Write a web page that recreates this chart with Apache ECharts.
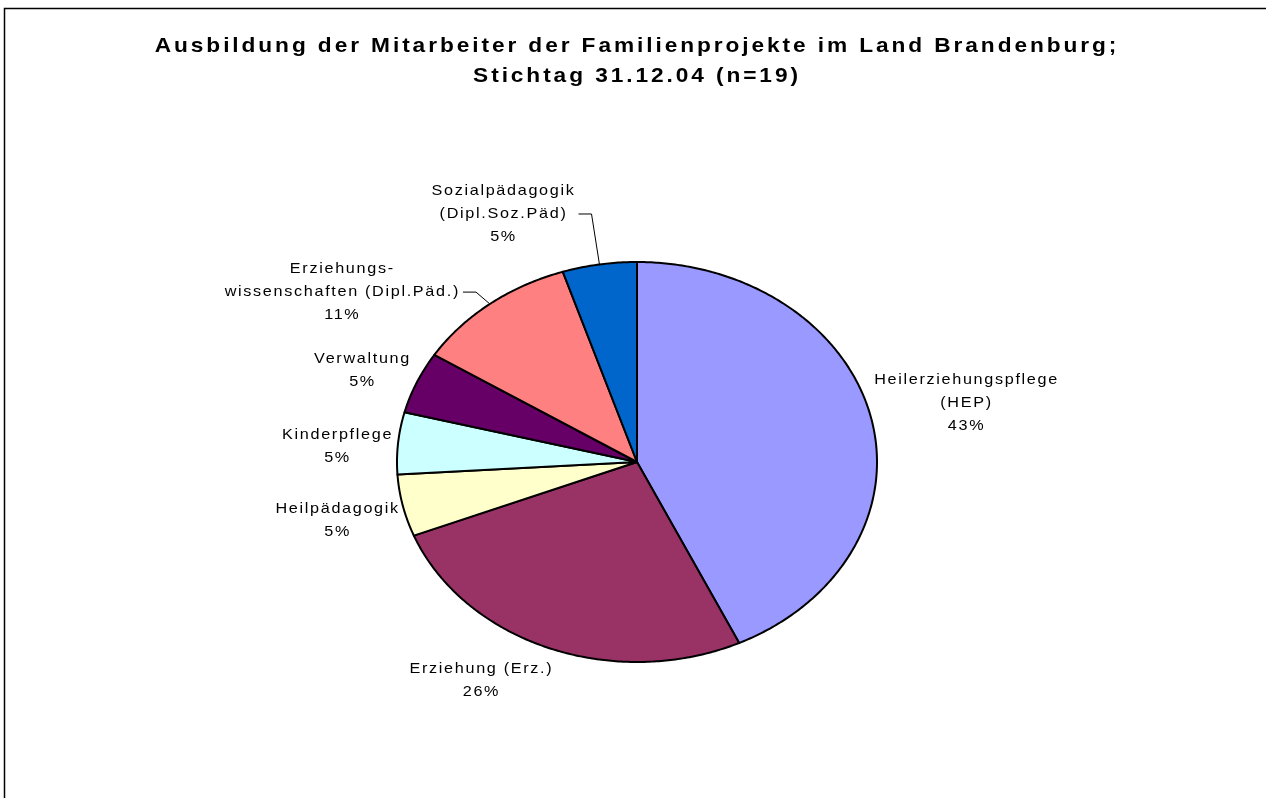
<!DOCTYPE html>
<html>
<head>
<meta charset="utf-8">
<style>
  html, body { margin: 0; padding: 0; background: #fff; }
  #main { width: 1266px; height: 798px; }
</style>
<script src="https://cdn.jsdelivr.net/npm/echarts@6/dist/echarts.min.js"></script>
</head>
<body>
<div id="main"></div>
<script>
const titleText = 'Ausbildung der Mitarbeiter der Familienprojekte im Land Brandenburg;\nStichtag 31.12.04 (n=19)'
const categories = [
  'Heilerziehungspflege\n(HEP)',
  'Erziehung (Erz.)',
  'Heilpädagogik',
  'Kinderpflege',
  'Verwaltung',
  'Erziehungs-\nwissenschaften (Dipl.Päd.)',
  'Sozialpädagogik\n(Dipl.Soz.Päd)'
]
const shares = [43, 26, 5, 5, 5, 11, 5]
const colors = ['#9999FF', '#993366', '#FFFFCC', '#CCFFFF', '#660066', '#FF8080', '#0066CC']
// labels that were dragged by hand in the original (dx, dy)
const labelShift = [[0, 6], [-57, 7], [0, 0], [-2, 9], [-3, 10], [-119, 25], [-90, -13]]

const fontFamily = '"Liberation Sans", Arial, sans-serif'
const titleSize = 21
const labelSize = 15
const lineH = 23
const stretch = 1.08 // the original text is a bit wider than Arial
const cx = 637, cy = 462, rx = 240, ry = 200

// the original text is spaced out; canvas letterSpacing per font size
const spacingBySize = { [titleSize]: '2.7px', [labelSize]: '1.55px' }
function applySpacing(ctx) {
  const m = /(\d+)px/.exec(ctx.font)
  ctx.letterSpacing = (m && spacingBySize[m[1]]) || '0px'
}
const proto = CanvasRenderingContext2D.prototype
const origFill = proto.fillText
const origMeasure = proto.measureText
proto.fillText = function (...args) {
  applySpacing(this)
  return origFill.apply(this, args)
}
proto.measureText = function (...args) {
  applySpacing(this)
  return origMeasure.apply(this, args)
}

const measure = document.createElement('canvas').getContext('2d')
measure.font = labelSize + 'px ' + fontFamily

const total = shares.reduce((a, b) => a + b, 0)
const starts = []
let acc = 0
shares.forEach(v => { starts.push(acc); acc += v })

function pt(a) {
  return [cx + rx * Math.sin(a), cy - ry * Math.cos(a)]
}

function renderSlice(params, api) {
  const i = params.dataIndex
  const v = api.value(0)
  const a0 = starts[i] / total * 2 * Math.PI
  const a1 = (starts[i] + v) / total * 2 * Math.PI
  const points = [[cx, cy]]
  const steps = Math.max(2, Math.ceil((a1 - a0) / 0.01))
  for (let s = 0; s <= steps; s++) points.push(pt(a0 + (a1 - a0) * s / steps))

  // label box sits just outside the edge, along the middle angle
  const am = (a0 + a1) / 2
  const P = pt(am)
  const text = categories[i] + '\n' + Math.round(v / total * 100) + '%'
  const lines = text.split('\n')
  const hw = stretch * Math.max(...lines.map(l => measure.measureText(l).width)) / 2
  const hh = lines.length * lineH / 2
  const ux = Math.sin(am), uy = -Math.cos(am)
  const t = Math.min(
    Math.abs(ux) > 1e-6 ? hw / Math.abs(ux) : Infinity,
    Math.abs(uy) > 1e-6 ? hh / Math.abs(uy) : Infinity
  ) + 3
  const lx = P[0] + t * ux + labelShift[i][0]
  const ly = P[1] + t * uy + labelShift[i][1]

  const children = [
    {
      type: 'polygon',
      shape: { points },
      style: { fill: colors[i], stroke: '#000', lineWidth: 2, lineJoin: 'round' }
    },
    {
      type: 'text',
      x: lx,
      y: ly,
      scaleX: stretch,
      style: {
        text,
        fontFamily,
        fontSize: labelSize,
        align: 'center',
        verticalAlign: 'middle',
        lineHeight: lineH,
        fill: '#000'
      }
    }
  ]
  if (Math.hypot(labelShift[i][0], labelShift[i][1]) > 80) {
    const ex = lx + hw + 3
    children.push({
      type: 'polyline',
      shape: { points: [P, [ex + 13, ly], [ex, ly]] },
      style: { stroke: '#000', lineWidth: 1, fill: null }
    })
  }
  return { type: 'group', children }
}

const chart = echarts.init(document.getElementById('main'))
chart.setOption({
  animation: false,
  backgroundColor: '#fff',
  graphic: [
    {
      type: 'rect',
      shape: { x: 4.5, y: 8.5, width: 2000, height: 2000 },
      style: { fill: null, stroke: '#000', lineWidth: 1.5 },
      silent: true
    },
    {
      type: 'text',
      x: 637,
      y: 61,
      scaleX: stretch,
      style: {
        text: titleText,
        fontFamily,
        fontSize: titleSize,
        fontWeight: 'bold',
        align: 'center',
        verticalAlign: 'middle',
        lineHeight: 30,
        fill: '#000'
      }
    }
  ],
  series: [{
    type: 'custom',
    coordinateSystem: 'none',
    renderItem: renderSlice,
    data: shares.map((v, i) => ({ name: categories[i], value: [v] }))
  }]
})
</script>
</body>
</html>
